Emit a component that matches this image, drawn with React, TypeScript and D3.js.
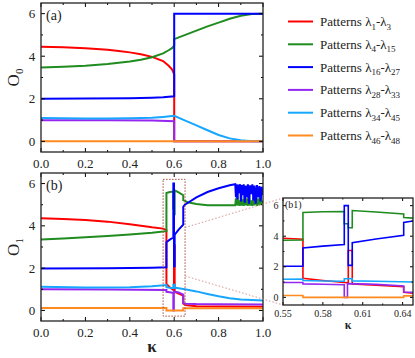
import React from 'react';
import * as d3 from 'd3';

type Pt = [number, number];

// legend: subscripts of the lambda ranges
const legendRanges = [['1', '3'], ['4', '15'], ['16', '27'], ['28', '33'], ['34', '45'], ['46', '48']];
const colors = ['#ff0000', '#1f8c1f', '#0000ff', '#9427f0', '#16a6ff', '#ff8a1f'];

// panel (a): O0 vs kappa
const aRed: Pt[] = [[0, 4.45], [0.1, 4.42], [0.2, 4.37], [0.3, 4.3], [0.35, 4.25], [0.4, 4.18], [0.45, 4.09], [0.5, 3.97], [0.55, 3.77], [0.575, 3.55], [0.59, 3.38], [0.6, 3.15], [0.6, 0], [1, 0]];
const aGreen: Pt[] = [[0, 3.47], [0.1, 3.5], [0.2, 3.55], [0.3, 3.63], [0.4, 3.75], [0.45, 3.83], [0.5, 3.95], [0.55, 4.13], [0.575, 4.28], [0.59, 4.38], [0.6, 4.5], [0.6, 4.8], [0.65, 5.0], [0.7, 5.2], [0.75, 5.4], [0.8, 5.58], [0.85, 5.76], [0.9, 5.9], [0.95, 5.98], [1, 6.0]];
const aBlue: Pt[] = [[0, 2.0], [0.2, 2.01], [0.4, 2.03], [0.5, 2.05], [0.55, 2.07], [0.6, 2.12], [0.6, 6.0], [1, 6.0]];
const aPurple: Pt[] = [[0, 0.99], [0.3, 0.99], [0.5, 0.98], [0.6, 0.95], [0.6, 0], [1, 0]];
const aSky: Pt[] = [[0, 1.1], [0.1, 1.08], [0.2, 1.07], [0.3, 1.07], [0.4, 1.08], [0.5, 1.11], [0.55, 1.15], [0.6, 1.2], [0.65, 0.97], [0.7, 0.75], [0.75, 0.52], [0.8, 0.3], [0.85, 0.14], [0.9, 0.05], [0.95, 0.01], [1, 0]];
const aOrange: Pt[] = [[0, 0], [1, 0]];

// panel (b): O1 vs kappa (also used by the inset b1)
const bRed: Pt[] = [[0, 4.36], [0.1, 4.33], [0.2, 4.28], [0.3, 4.2], [0.4, 4.08], [0.5, 3.93], [0.55, 3.87], [0.565, 3.8], [0.565, 1.25], [0.58, 1.1], [0.5961, 0.97], [0.5991, 0.95], [0.5991, 3.07], [0.6021, 3.07], [0.6021, 0.88], [0.62, 0.8], [0.6408, 0.7], [0.6408, 0.33], [0.65, 0.25], [0.7, 0.2], [0.8, 0.18], [1, 0.17]];
const bGreen: Pt[] = [[0, 3.35], [0.1, 3.4], [0.2, 3.46], [0.3, 3.52], [0.4, 3.59], [0.5, 3.67], [0.565, 3.75], [0.565, 5.55], [0.58, 5.6], [0.5961, 5.62], [0.5961, 4.82], [0.5991, 4.82], [0.5991, 4.55], [0.6021, 4.55], [0.6021, 5.68], [0.62, 5.58], [0.6408, 5.45], [0.6408, 5.22], [0.648, 5.18], [0.66, 5.12], [0.7, 5.03], [0.75, 4.98], [0.8, 4.97], [0.85, 4.98],
  [0.875, 4.98], [0.878, 5.3], [0.881, 4.97], [0.885, 5.4], [0.889, 4.96], [0.893, 5.2], [0.897, 4.95], [0.901, 5.45], [0.905, 4.96], [0.909, 5.25], [0.913, 4.95], [0.918, 5.45], [0.922, 4.97], [0.927, 5.3], [0.932, 4.95], [0.937, 5.5], [0.942, 4.96], [0.947, 5.2], [0.952, 4.95], [0.957, 5.4], [0.962, 4.97], [0.967, 5.5], [0.973, 4.95], [0.978, 5.3], [0.984, 4.97], [0.989, 5.45], [0.994, 5.0], [1.0, 5.2]];
const bBlue: Pt[] = [[0, 1.98], [0.3, 2.0], [0.5, 2.02], [0.565, 2.04], [0.565, 3.23], [0.58, 3.35], [0.5961, 3.45], [0.5961, 6.0], [0.5991, 6.0], [0.5991, 2.09], [0.6021, 2.09], [0.6021, 3.58], [0.62, 3.82], [0.6408, 4.06], [0.6408, 4.9], [0.648, 5.0], [0.66, 5.08], [0.7, 5.35], [0.75, 5.6], [0.8, 5.78], [0.85, 5.92],
  [0.875, 5.97], [0.878, 5.35], [0.881, 5.96], [0.885, 5.25], [0.889, 5.95], [0.893, 5.55], [0.897, 5.97], [0.901, 5.15], [0.905, 5.93], [0.909, 5.45], [0.913, 5.97], [0.918, 5.1], [0.922, 5.9], [0.927, 5.35], [0.932, 5.96], [0.937, 5.05], [0.942, 5.92], [0.947, 5.5], [0.952, 5.96], [0.957, 5.2], [0.962, 5.9], [0.967, 5.05], [0.973, 5.93], [0.978, 5.35], [0.984, 5.88], [0.989, 5.15], [0.994, 5.85], [1.0, 5.45]];
const bPurple: Pt[] = [[0, 1.0], [0.3, 0.99], [0.565, 0.97], [0.565, 0.88], [0.58, 0.86], [0.5961, 0.82], [0.5961, 0], [0.5985, 0], [0.5985, 0.9], [0.62, 0.85], [0.6408, 0.75], [0.6408, 0.35], [0.65, 0.32], [0.7, 0.3], [0.8, 0.29], [1, 0.28]];
const bSky: Pt[] = [[0, 1.12], [0.2, 1.09], [0.4, 1.1], [0.5, 1.14], [0.565, 1.2], [0.565, 1.1], [0.58, 1.07], [0.5961, 1.05], [0.5961, 1.22], [0.6021, 1.22], [0.6021, 1.08], [0.62, 1.05], [0.648, 1.0], [0.7, 0.9], [0.75, 0.78], [0.8, 0.67], [0.85, 0.58], [0.9, 0.52], [0.95, 0.49], [1, 0.47]];
const bOrange: Pt[] = [[0, 0.12], [0.565, 0.12], [0.565, 0.0], [0.6408, 0.0], [0.6408, 0.1], [1, 0.1]];

const seriesA = [aRed, aGreen, aBlue, aPurple, aSky, aOrange];
const seriesB = [bRed, bGreen, bBlue, bPurple, bSky, bOrange];

// ticks
const xMajor = [0, 0.2, 0.4, 0.6, 0.8, 1.0];
const xMinor = [0.1, 0.3, 0.5, 0.7, 0.9];
const yMajor = [0, 2, 4, 6];
const yMinor = [1, 3, 5];
const insetXMajor = [0.55, 0.58, 0.61, 0.64];
const insetXMinor = [0.565, 0.595, 0.625];

// zoom window drawn in panel (b)
const zoomBox = { k0: 0.55, k1: 0.649, o0: -0.27, o1: 6.2 };
const connectAt = [3.92, 1.63];

const FONT = '"Liberation Serif", "Times New Roman", serif';

type Scale = d3.ScaleLinear<number, number>;

function Frame({ x, y, id, series, xMaj, xMin, fmt, fs, tl, lw, labOff }: {
  x: Scale; y: Scale; id: string; series: Pt[][]; xMaj: number[]; xMin: number[];
  fmt: (n: number) => string; fs: number; tl: number; lw: number; labOff: number;
}) {
  const [x0, x1] = x.range();
  const [y1, y0] = y.range();
  const line = d3.line<Pt>().x(d => x(d[0])).y(d => y(d[1]));
  const tick = (v: number, maj: boolean, axis: 'x' | 'y', k: string) => {
    const L = maj ? tl : tl / 2;
    if (axis === 'x') {
      const p = x(v);
      return (
        <g key={k}>
          <line x1={p} x2={p} y1={y1} y2={y1 - L} stroke="#000" strokeWidth={1} />
          <line x1={p} x2={p} y1={y0} y2={y0 + L} stroke="#000" strokeWidth={1} />
        </g>
      );
    }
    const p = y(v);
    return (
      <g key={k}>
        <line x1={x0} x2={x0 + L} y1={p} y2={p} stroke="#000" strokeWidth={1} />
        <line x1={x1} x2={x1 - L} y1={p} y2={p} stroke="#000" strokeWidth={1} />
      </g>
    );
  };
  return (
    <g>
      <defs>
        <clipPath id={id}>
          <rect x={x0} y={y0} width={x1 - x0} height={y1 - y0} />
        </clipPath>
      </defs>
      <g clipPath={`url(#${id})`}>
        {series.map((s, i) => (
          <path key={i} d={line(s) || ''} fill="none" stroke={colors[i]} strokeWidth={lw} strokeLinejoin="miter" />
        ))}
      </g>
      {xMaj.map((v, i) => tick(v, true, 'x', 'xM' + i))}
      {xMin.map((v, i) => tick(v, false, 'x', 'xm' + i))}
      {yMajor.map((v, i) => tick(v, true, 'y', 'yM' + i))}
      {yMinor.map((v, i) => tick(v, false, 'y', 'ym' + i))}
      <rect x={x0} y={y0} width={x1 - x0} height={y1 - y0} fill="none" stroke="#222" strokeWidth={1.3} />
      {xMaj.map(v => (
        <text key={'xl' + v} x={x(v)} y={y1 + labOff} textAnchor="middle" fontSize={fs} fontFamily={FONT} fill="#222">{fmt(v)}</text>
      ))}
      {yMajor.map(v => (
        <text key={'yl' + v} x={x0 - fs * 0.45} y={y(v)} dy="0.35em" textAnchor="end" fontSize={fs} fontFamily={FONT} fill="#222">{v}</text>
      ))}
    </g>
  );
}

export default function App() {
  const W = 415, H = 358;
  const xA = d3.scaleLinear().domain([0, 1]).range([41, 263]);
  const yA = d3.scaleLinear().domain([-0.5, 6.5]).range([152, 3]);
  const xB = d3.scaleLinear().domain([0, 1]).range([41, 263]);
  const yB = d3.scaleLinear().domain([-0.5, 6.5]).range([321, 173]);
  const xI = d3.scaleLinear().domain([0.55, 0.6478]).range([283, 413]);
  const yI = d3.scaleLinear().domain([-0.5, 6.5]).range([305, 198]);
  const f1 = d3.format('.1f');
  const f2 = d3.format('.2f');

  const bx = xB(zoomBox.k1);
  const [ix0] = xI.range();
  const [iy1, iy0] = yI.range();

  return (
    <svg width={W} height={H} style={{ position: 'absolute', left: 0, top: 0, background: '#fff' }}>
      <rect width={W} height={H} fill="#fff" />
      <Frame x={xA} y={yA} id="clipA" series={seriesA} xMaj={xMajor} xMin={xMinor} fmt={f1} fs={13} tl={4} lw={2} labOff={16} />
      <Frame x={xB} y={yB} id="clipB" series={seriesB} xMaj={xMajor} xMin={xMinor} fmt={f1} fs={13} tl={4} lw={2} labOff={16} />

      {/* zoom box and connectors */}
      <rect x={xB(zoomBox.k0)} y={yB(zoomBox.o1)} width={xB(zoomBox.k1) - xB(zoomBox.k0)} height={yB(zoomBox.o0) - yB(zoomBox.o1)}
        fill="none" stroke="#a84a3a" strokeWidth={1} strokeDasharray="1.5,1.5" />
      <line x1={bx} y1={yB(connectAt[0])} x2={ix0} y2={iy0} stroke="#d48a8a" strokeWidth={0.9} strokeDasharray="1.5,2" />
      <line x1={bx} y1={yB(connectAt[1])} x2={ix0} y2={iy1} stroke="#d48a8a" strokeWidth={0.9} strokeDasharray="1.5,2" />

      <Frame x={xI} y={yI} id="clipI" series={seriesB} xMaj={insetXMajor} xMin={insetXMinor} fmt={f2} fs={10} tl={3} lw={1.6} labOff={12} />

      {/* panel labels */}
      <text x={46} y={20} fontSize={14} fontFamily={FONT} fill="#222">(a)</text>
      <text x={46} y={190} fontSize={14} fontFamily={FONT} fill="#222">(b)</text>
      <text x={285} y={208} fontSize={10} fontFamily={FONT} fill="#222">(b1)</text>

      {/* axis titles */}
      <text transform={`translate(19,${(yA.range()[0] + yA.range()[1]) / 2}) rotate(-90)`} textAnchor="middle" fontSize={17} fontFamily={FONT} fill="#222">
        O<tspan dy={4} fontSize={11}>0</tspan>
      </text>
      <text transform={`translate(19,${(yB.range()[0] + yB.range()[1]) / 2}) rotate(-90)`} textAnchor="middle" fontSize={17} fontFamily={FONT} fill="#222">
        O<tspan dy={4} fontSize={11}>1</tspan>
      </text>
      <text x={(xB.range()[0] + xB.range()[1]) / 2} y={352} textAnchor="middle" fontSize={17} fontWeight="bold" fontFamily={FONT} fill="#222">κ</text>
      <text x={(xI.range()[0] + xI.range()[1]) / 2} y={329} textAnchor="middle" fontSize={12} fontWeight="bold" fontFamily={FONT} fill="#222">κ</text>

      {/* legend */}
      {legendRanges.map((r, i) => {
        const ly = 21.5 + i * 22.8;
        return (
          <g key={i}>
            <line x1={288} x2={313} y1={ly} y2={ly} stroke={colors[i]} strokeWidth={2} />
            <text x={320} y={ly + 4.5} fontSize={13} fontFamily={FONT} fill="#222">
              Patterns λ<tspan dy={3.5} fontSize={9}>{r[0]}</tspan>
              <tspan dy={-3.5}>-λ</tspan><tspan dy={3.5} fontSize={9}>{r[1]}</tspan>
            </text>
          </g>
        );
      })}
    </svg>
  );
}
